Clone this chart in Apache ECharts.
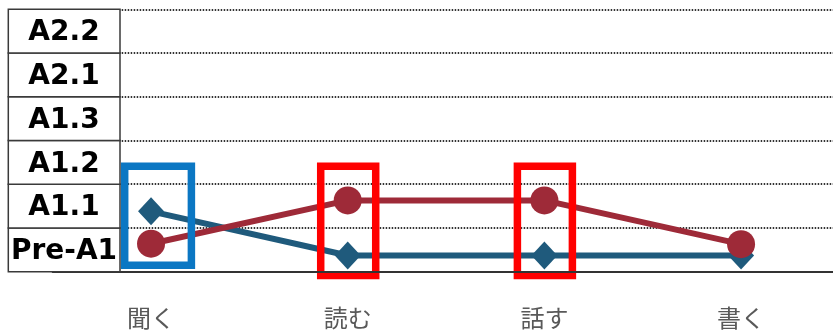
<!DOCTYPE html>
<html>
<head>
<meta charset="utf-8">
<script src="https://cdn.jsdelivr.net/npm/echarts@6/dist/echarts.min.js"></script>
<style>
html,body{margin:0;padding:0;background:#fff;}
#c{width:833px;height:331px;}
</style>
</head>
<body>
<div id="c"></div>
<script>
// Data
const categories = ['聞く', '読む', '話す', '書く'];
const levels = ['Pre-A1', 'A1.1', 'A1.2', 'A1.3', 'A2.1', 'A2.2'];
const blueValues = [1.38, 0.37, 0.37, 0.37];
const redValues = [0.64, 1.63, 1.63, 0.63];
const highlightCats = ['聞く', '読む', '話す'];
const highlightColors = ['#0B77C3', '#FF0000', '#FF0000'];

const chart = echarts.init(document.getElementById('c'), null, {renderer: 'canvas'});

const option = {
  animation: false,
  backgroundColor: '#fff',
  grid: {left: 52.7, top: 9.3, width: 786.7, bottom: 59.3, containLabel: false, outerBoundsMode: 'none'},
  xAxis: {
    type: 'category',
    data: categories,
    boundaryGap: true,
    z: 10,
    axisLine: {show: true, lineStyle: {color: '#333', width: 2}},
    axisTick: {show: false},
    axisLabel: {
      color: '#595959',
      fontSize: 24,
      fontFamily: '"Noto Sans CJK JP", sans-serif',
      margin: 34
    },
    splitLine: {show: false}
  },
  yAxis: {
    type: 'value',
    min: 0,
    max: levels.length,
    interval: 1,
    axisLine: {show: false},
    axisTick: {show: false},
    axisLabel: {show: false},
    splitLine: {show: true, lineStyle: {color: '#333', width: 2, type: [1.5, 1.5]}}
  },
  series: [
    {
      type: 'line',
      name: 'blue',
      data: blueValues,
      symbol: 'diamond',
      symbolSize: [26, 28],
      lineStyle: {color: '#1F5A7C', width: 6},
      itemStyle: {color: '#1F5A7C'},
      z: 2
    },
    {
      type: 'line',
      name: 'red',
      data: redValues,
      symbol: 'circle',
      symbolSize: 28,
      lineStyle: {color: '#9E2A38', width: 6},
      itemStyle: {color: '#9E2A38'},
      z: 3
    }
  ]
};
chart.setOption(option);

// Build annotation boxes and level table from axis scales
const graphics = [];
highlightCats.forEach(function (cat, i) {
  const cx = chart.convertToPixel({xAxisIndex: 0}, cat);
  const isBlue = i === 0;
  const w = isBlue ? 66.7 : 55;
  const off = isBlue ? 7 : 0.5;
  const y0 = 166.3;
  const y1 = isBlue ? 265.3 : 275.5;
  graphics.push({
    type: 'rect',
    z: 5,
    shape: {x: cx + off - w / 2, y: y0, width: w, height: y1 - y0},
    style: {fill: 'none', stroke: highlightColors[i], lineWidth: 7.5}
  });
});
levels.forEach(function (lv, i) {
  const yb = chart.convertToPixel({yAxisIndex: 0}, i);
  const yt = chart.convertToPixel({yAxisIndex: 0}, i + 1);
  graphics.push({
    type: 'rect',
    z: 20,
    shape: {x: 8.3, y: yt, width: 111.7, height: yb - yt},
    style: {fill: '#fff', stroke: '#3a3a3a', lineWidth: 1.5}
  });
  graphics.push({
    type: 'text',
    z: 21,
    x: 64,
    y: (yt + yb) / 2 + 2,
    style: {
      text: lv,
      fill: '#000',
      font: 'bold 28px "DejaVu Sans", sans-serif',
      align: 'center',
      verticalAlign: 'middle'
    }
  });
});
chart.setOption({graphic: graphics});
</script>
</body>
</html>
